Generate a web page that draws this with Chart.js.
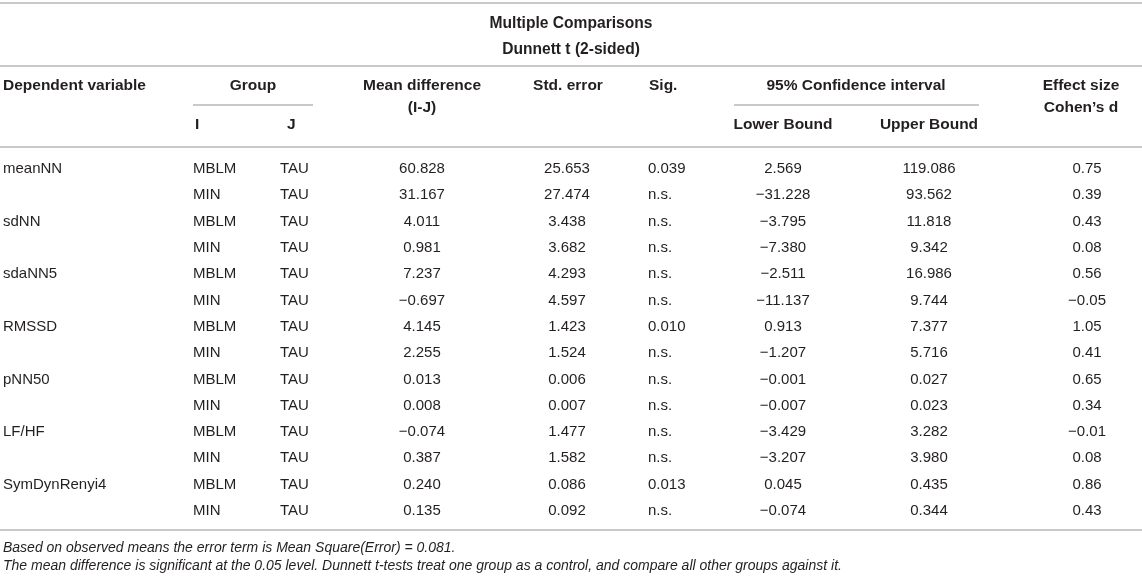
<!DOCTYPE html>
<html>
<head>
<meta charset="utf-8">
<script src="https://cdn.jsdelivr.net/npm/chart.js@4"></script>
<style>
  html, body { margin: 0; padding: 0; background: #fff; }
  #wrap { width: 1142px; height: 581px; }
</style>
</head>
<body>
<div id="wrap"><canvas id="tableChart" width="1142" height="581"></canvas></div>
<script>
// table data
const titleLines = ['Multiple Comparisons', 'Dunnett t (2-sided)'];
const headerTop = ['Dependent variable', 'Group', 'Mean difference', 'Std. error', 'Sig.', '95% Confidence interval', 'Effect size'];
const headerSub = ['(I-J)', 'Cohen\u2019s d'];
const headerLow = ['I', 'J', 'Lower Bound', 'Upper Bound'];

const variables = ['meanNN', 'sdNN', 'sdaNN5', 'RMSSD', 'pNN50', 'LF/HF', 'SymDynRenyi4'];
const groupI = ['MBLM', 'MIN'];
const groupJ = 'TAU';
const meanDiff = [60.828, 31.167, 4.011, 0.981, 7.237, -0.697, 4.145, 2.255, 0.013, 0.008, -0.074, 0.387, 0.240, 0.135];
const stdError = [25.653, 27.474, 3.438, 3.682, 4.293, 4.597, 1.423, 1.524, 0.006, 0.007, 1.477, 1.582, 0.086, 0.092];
const sig = ['0.039', 'n.s.', 'n.s.', 'n.s.', 'n.s.', 'n.s.', '0.010', 'n.s.', 'n.s.', 'n.s.', 'n.s.', 'n.s.', '0.013', 'n.s.'];
const lowerBound = [2.569, -31.228, -3.795, -7.380, -2.511, -11.137, 0.913, -1.207, -0.001, -0.007, -3.429, -3.207, 0.045, -0.074];
const upperBound = [119.086, 93.562, 11.818, 9.342, 16.986, 9.744, 7.377, 5.716, 0.027, 0.023, 3.282, 3.980, 0.435, 0.344];
const cohensD = [0.75, 0.39, 0.43, 0.08, 0.56, -0.05, 1.05, 0.41, 0.65, 0.34, -0.01, 0.08, 0.86, 0.43];

const footnotes = [
    'Based on observed means the error term is Mean Square(Error) = 0.081.',
    'The mean difference is significant at the 0.05 level. Dunnett t-tests treat one group as a control, and compare all other groups against it.'
];

// number formatting with a real minus sign
function fmt(v, d) {
    const s = Math.abs(v).toFixed(d);
    return v < 0 ? '\u2212' + s : s;
}

// layout (x in canvas units, y in row units: body rows are 0..13)
const FONT = '"Liberation Sans", Arial, sans-serif';
const TEXT = '#231f20';
const RULE = '#c9c9c9';
const bodyCols = [
    { x: 3, align: 'left' },
    { x: 193, align: 'left' },
    { x: 280, align: 'left' },
    { x: 422, align: 'center' },
    { x: 567, align: 'center' },
    { x: 648, align: 'left' },
    { x: 783, align: 'center' },
    { x: 929, align: 'center' },
    { x: 1087, align: 'center' }
];
const rowY = { top: -6.31, title1: -5.52, title2: -4.53, rule1: -3.92, h1: -3.16, under: -2.43, h2: -2.32, h3: -1.67, rule2: -0.84, rule3: 13.73, f1: 14.41, f2: 15.10 };

// build body columns
const colVar = meanDiff.map((_, i) => (i % 2 === 0 ? variables[i / 2] : ''));
const colI = meanDiff.map((_, i) => groupI[i % 2]);
const colJ = meanDiff.map(() => groupJ);
const bodyText = [
    colVar, colI, colJ,
    meanDiff.map(v => fmt(v, 3)),
    stdError.map(v => fmt(v, 3)),
    sig,
    lowerBound.map(v => fmt(v, 3)),
    upperBound.map(v => fmt(v, 3)),
    cohensD.map(v => fmt(v, 2))
];

const datasets = bodyText.map((texts, c) => ({
    label: 'col' + c,
    data: texts.map((_, r) => ({ x: bodyCols[c].x, y: r })),
    cellText: texts,
    cellAlign: bodyCols[c].align,
    cellFont: '15px ' + FONT,
    pointRadius: 0
}));

// header cells
function textSet(name, cells, font) {
    return {
        label: name,
        data: cells.map(c => ({ x: c[1], y: c[2] })),
        cellText: cells.map(c => c[0]),
        cellAligns: cells.map(c => c[3]),
        cellFont: font,
        pointRadius: 0
    };
}
datasets.push(textSet('title', [
    [titleLines[0], 571, rowY.title1, 'center'],
    [titleLines[1], 571, rowY.title2, 'center']
], 'bold 15.6px ' + FONT));
datasets.push(textSet('header', [
    [headerTop[0], 3, rowY.h1, 'left'],
    [headerTop[1], 253, rowY.h1, 'center'],
    [headerTop[2], 422, rowY.h1, 'center'],
    [headerTop[3], 568, rowY.h1, 'center'],
    [headerTop[4], 649, rowY.h1, 'left'],
    [headerTop[5], 856, rowY.h1, 'center'],
    [headerTop[6], 1081, rowY.h1, 'center'],
    [headerSub[0], 422, rowY.h2, 'center'],
    [headerSub[1], 1081, rowY.h2, 'center'],
    [headerLow[0], 195, rowY.h3, 'left'],
    [headerLow[1], 287, rowY.h3, 'left'],
    [headerLow[2], 783, rowY.h3, 'center'],
    [headerLow[3], 929, rowY.h3, 'center']
], 'bold 15.5px ' + FONT));
datasets.push(textSet('notes', [
    [footnotes[0], 3, rowY.f1, 'left'],
    [footnotes[1], 3, rowY.f2, 'left']
], 'italic 14px ' + FONT));

const rules = [
    { y: rowY.top, x1: 0, x2: 1142 },
    { y: rowY.rule1, x1: 0, x2: 1142 },
    { y: rowY.under, x1: 193, x2: 313 },
    { y: rowY.under, x1: 734, x2: 979 },
    { y: rowY.rule2, x1: 0, x2: 1142 },
    { y: rowY.rule3, x1: 0, x2: 1142 }
];

// draws the rules and cell texts at the positions given by the scales
const tablePlugin = {
    id: 'tablePlugin',
    afterDatasetsDraw(chart) {
        const ctx = chart.ctx;
        const xs = chart.scales.x;
        const ys = chart.scales.y;
        ctx.save();
        ctx.strokeStyle = RULE;
        ctx.lineWidth = 2;
        rules.forEach(r => {
            const y = Math.round(ys.getPixelForValue(r.y));
            ctx.beginPath();
            ctx.moveTo(xs.getPixelForValue(r.x1), y);
            ctx.lineTo(xs.getPixelForValue(r.x2), y);
            ctx.stroke();
        });
        ctx.fillStyle = TEXT;
        ctx.textBaseline = 'middle';
        chart.data.datasets.forEach((ds, i) => {
            const meta = chart.getDatasetMeta(i);
            ctx.font = ds.cellFont;
            meta.data.forEach((pt, j) => {
                const t = ds.cellText[j];
                if (!t) return;
                ctx.textAlign = ds.cellAligns ? ds.cellAligns[j] : ds.cellAlign;
                ctx.fillText(t, pt.x, pt.y);
            });
        });
        ctx.restore();
    }
};

const ROW_PX = 26.3;
const FIRST_ROW_PX = 169;
const yMin = -FIRST_ROW_PX / ROW_PX;
const yMax = yMin + 581 / ROW_PX;

new Chart(document.getElementById('tableChart'), {
    type: 'scatter',
    data: { datasets: datasets },
    options: {
        responsive: false,
        animation: false,
        layout: { padding: 0 },
        scales: {
            x: { type: 'linear', min: 0, max: 1142, display: false },
            y: { type: 'linear', min: yMin, max: yMax, reverse: true, display: false }
        },
        plugins: {
            legend: { display: false },
            tooltip: { enabled: false }
        }
    },
    plugins: [tablePlugin]
});
</script>
</body>
</html>
